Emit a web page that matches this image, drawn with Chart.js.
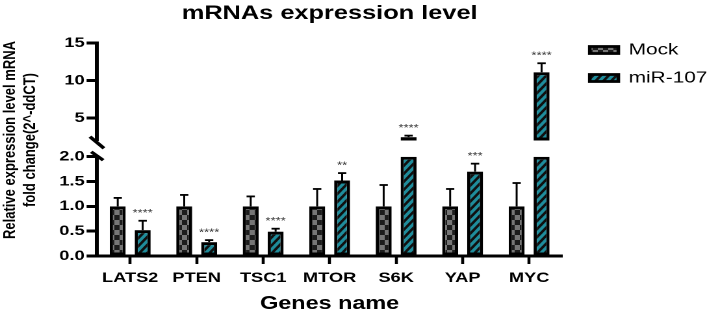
<!DOCTYPE html>
<html><head><meta charset="utf-8">
<script src="https://cdn.jsdelivr.net/npm/chart.js@4.4.1/dist/chart.umd.min.js"></script>
<style>
html,body{margin:0;padding:0;background:#fff;overflow:hidden;width:707px;height:315px}
#wrap{position:absolute;left:0;top:0;width:544px;height:315px;transform:scaleX(1.2996);transform-origin:0 0}
canvas{display:block}
</style></head><body>
<div id="wrap"><canvas id="c" width="544" height="315"></canvas></div>
<script>
const categories = ['LATS2','PTEN','TSC1','MTOR','S6K','YAP','MYC'];
const mockMean = [1, 1, 1, 1, 1, 1, 1];
const mockSem  = [0.17, 0.23, 0.20, 0.35, 0.43, 0.35, 0.47];
const mirMean  = [0.52, 0.28, 0.49, 1.52, 2.45, 1.70, 11.1];
const mirSem   = [0.19, 0.04, 0.06, 0.15, 0.20, 0.16, 1.2];
const mirSig   = ['****','****','****','**','****','***','****'];
const lowerTicks = [0, 0.5, 1, 1.5, 2];
const upperTicks = [5, 10, 15];
const BREAK = 2;
const UPPER_MAX = 15;

const FAMILY = "'Liberation Sans', Arial, Helvetica, sans-serif";
Chart.defaults.font.family = FAMILY;
Chart.defaults.color = '#000';

const canvas = document.getElementById('c');
const mainCtx = canvas.getContext('2d');

function makePattern(w, h, draw) {
  const r = 4;
  const c = document.createElement('canvas');
  c.width = w * r; c.height = h * r;
  const g = c.getContext('2d');
  g.scale(r, r);
  draw(g, w, h);
  const p = mainCtx.createPattern(c, 'repeat');
  p.setTransform(new DOMMatrix().scale(1 / r));
  return p;
}
const checker = makePattern(8, 10, (g, w, h) => {
  g.fillStyle = '#1c1c1c'; g.fillRect(0, 0, w, h);
  g.fillStyle = '#767676';
  g.fillRect(0, 0, w / 2, h / 2); g.fillRect(w / 2, h / 2, w / 2, h / 2);
});
const stripes = makePattern(6, 8, (g, w, h) => {
  g.fillStyle = '#101010'; g.fillRect(0, 0, w, h);
  g.strokeStyle = '#1f8d9c'; g.lineWidth = 2.6;
  for (let k = -1; k <= 2; k++) {
    g.beginPath();
    g.moveTo(-w, 2 * h + h * k);
    g.lineTo(2 * w, -h + h * k);
    g.stroke();
  }
});

const barStyle = {
  borderColor: '#000',
  borderWidth: {left: 2.5, right: 2.5, top: 3, bottom: 3},
  borderSkipped: false,
  categoryPercentage: 0.75,
  barPercentage: 0.64
};

const tickFont = {family: FAMILY, size: 14, weight: 'bold'};
const Y_WIDTH = 43.4, T_WIDTH = 31.2;

function visibleY(extra) {
  return Object.assign({
    type: 'linear', position: 'left', stack: 'main',
    grid: {display: true, drawOnChartArea: false, drawTicks: true, tickLength: 8, tickWidth: 3, tickColor: '#000'},
    border: {display: true, color: '#000', width: 3},
    afterFit: s => { s.width = Y_WIDTH; }
  }, extra);
}
function hiddenY(extra, w) {
  return Object.assign({
    type: 'linear', position: 'left', min: 0, max: 1,
    grid: {display: false}, border: {display: false},
    ticks: {display: false},
    afterFit: s => { s.width = w; }
  }, extra);
}

const errorBars = {
  id: 'errorBars',
  afterDatasetsDraw(chart) {
    const ctx = chart.ctx;
    const series = [
      {mean: mockMean, sem: mockSem, low: 0, high: 2, sig: null},
      {mean: mirMean, sem: mirSem, low: 1, high: 3, sig: mirSig}
    ];
    ctx.save();
    series.forEach(s => {
      s.mean.forEach((v, i) => {
        const top = v + s.sem[i];
        const onHigh = v > BREAK;
        const el = chart.getDatasetMeta(onHigh ? s.high : s.low).data[i];
        if (!el) return;
        const x = el.x;
        const y0 = chart.scales[onHigh ? 'yHigh' : 'yLow'].getPixelForValue(v);
        const y1 = chart.scales[top > BREAK ? 'yHigh' : 'yLow'].getPixelForValue(top);
        ctx.strokeStyle = '#000';
        ctx.lineWidth = 1.5;
        ctx.beginPath(); ctx.moveTo(x, y0); ctx.lineTo(x, y1); ctx.stroke();
        ctx.lineWidth = 1.8;
        ctx.beginPath(); ctx.moveTo(x - 3.2, y1); ctx.lineTo(x + 3.2, y1); ctx.stroke();
        if (s.sig && s.sig[i]) {
          ctx.fillStyle = '#333';
          ctx.font = '10px ' + FAMILY;
          ctx.textAlign = 'center';
          ctx.textBaseline = 'middle';
          ctx.fillText(s.sig[i], x, y1 - 7.5);
        }
      });
    });
    ctx.restore();
  }
};

const axisBreak = {
  id: 'axisBreak',
  afterDraw(chart) {
    const ctx = chart.ctx;
    const hi = chart.scales.yHigh, lo = chart.scales.yLow;
    const x = hi.right;
    ctx.save();
    ctx.strokeStyle = '#000';
    ctx.lineWidth = 3;
    ctx.beginPath();
    ctx.moveTo(x - 5.4, hi.bottom - 3.8); ctx.lineTo(x + 5.4, hi.bottom + 7.8);
    ctx.moveTo(x - 4.4, lo.top - 4.9); ctx.lineTo(x + 4.8, lo.top + 3.5);
    ctx.stroke();
    ctx.restore();
  }
};

const legendPos = {
  id: 'legendPos',
  afterLayout(chart) {
    const L = chart.legend;
    if (!L) return;
    L.left = 441.8; L.right = 544; L.width = L.right - L.left;
    L.top = 30; L.bottom = 140; L.height = L.bottom - L.top;
  }
};

new Chart(canvas, {
  type: 'bar',
  data: {
    labels: categories,
    datasets: [
      Object.assign({label: 'Mock', data: mockMean.map(v => Math.min(v, BREAK)), yAxisID: 'yLow', stack: 'mock', backgroundColor: checker}, barStyle),
      Object.assign({label: 'miR-107', data: mirMean.map(v => Math.min(v, BREAK)), yAxisID: 'yLow', stack: 'mir', backgroundColor: stripes}, barStyle),
      Object.assign({label: 'Mock (upper)', data: mockMean.map(v => v > BREAK ? [BREAK, v] : null), yAxisID: 'yHigh', stack: 'mock', backgroundColor: checker}, barStyle),
      Object.assign({label: 'miR-107 (upper)', data: mirMean.map(v => v > BREAK ? [BREAK, v] : null), yAxisID: 'yHigh', stack: 'mir', backgroundColor: stripes}, barStyle)
    ]
  },
  options: {
    responsive: false,
    animation: false,
    devicePixelRatio: 2,
    events: [],
    layout: {padding: {left: 0, right: 110.3, top: 0, bottom: 0}},
    plugins: {
      title: {
        display: true, text: 'mRNAs expression level', fullSize: false,
        font: {family: FAMILY, size: 19.5, weight: 'bold', lineHeight: 1.2}, color: '#000',
        padding: {top: 2, bottom: 17.6}
      },
      legend: {
        display: true, position: 'right', fullSize: false, maxWidth: 1, align: 'start',
        labels: {
          boxWidth: 22, boxHeight: 7, padding: 12, color: '#000',
          font: {family: FAMILY, size: 16},
          filter: item => item.datasetIndex < 2
        }
      },
      tooltip: {enabled: false}
    },
    scales: {
      x: {
        type: 'category', offset: true,
        grid: {display: true, offset: false, drawOnChartArea: false, drawTicks: true, tickLength: 8, tickWidth: 2.3, tickColor: '#000'},
        border: {display: true, color: '#000', width: 3},
        ticks: {font: tickFont, color: '#000', padding: 5.5, maxRotation: 0, autoSkip: false},
        title: {display: true, text: 'Genes name', font: {family: FAMILY, size: 18, weight: 'bold'}, color: '#000', padding: {top: 0, bottom: 0}},
        afterFit: s => { s.height = 59; }
      },
      yLow: visibleY({
        min: 0, max: BREAK, stackWeight: 99.3,
        afterBuildTicks: s => { s.ticks = lowerTicks.map(v => ({value: v})); },
        ticks: {font: tickFont, color: '#000', padding: 1.5, autoSkip: false, callback: v => Number(v).toFixed(1)}
      }),
      yGap: hiddenY({stack: 'main', stackWeight: 16.2}, Y_WIDTH),
      yHigh: visibleY({
        min: BREAK, max: UPPER_MAX, stackWeight: 97.5,
        afterBuildTicks: s => { s.ticks = upperTicks.map(v => ({value: v})); },
        ticks: {font: tickFont, color: '#000', padding: 1.5, autoSkip: false, callback: v => String(v)}
      }),
      tB: hiddenY({stack: 'title', stackWeight: 19}, T_WIDTH),
      tA: hiddenY({
        stack: 'title', stackWeight: 194,
        title: {
          display: true,
          text: ['Relative expression level mRNA', 'fold change(2^-ddCT)'],
          font: {family: FAMILY, size: 13, weight: 'bold', lineHeight: 1.2},
          color: '#000', padding: {top: 0, bottom: 0}
        }
      }, T_WIDTH)
    }
  },
  plugins: [errorBars, axisBreak, legendPos]
});
</script>
</body></html>
